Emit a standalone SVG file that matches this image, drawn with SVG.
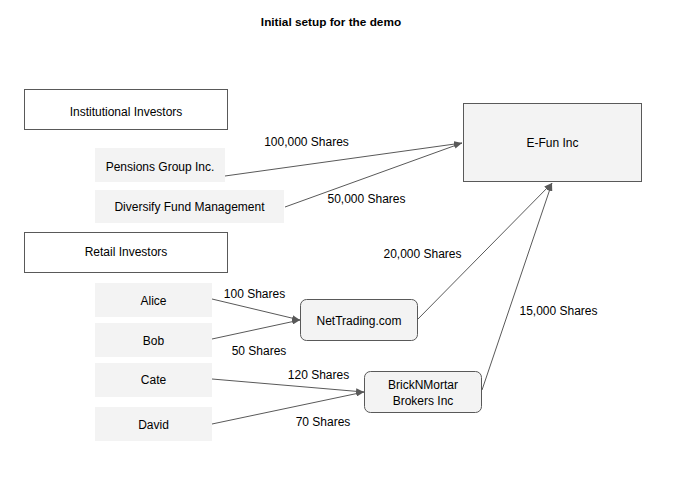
<svg xmlns="http://www.w3.org/2000/svg" width="682" height="480" viewBox="0 0 682 480">
<style>
text{font-family:"Liberation Sans",Arial,sans-serif;font-size:12px;fill:#000}
.t{text-anchor:middle}
.title{font-weight:bold;font-size:11.8px}
.box{fill:#fff;stroke:#595959;stroke-width:1}
.grey{fill:#f3f3f3;stroke:none}
.efun{fill:#f3f3f3;stroke:#595959;stroke-width:1}
.rnd{fill:#f3f3f3;stroke:#595959;stroke-width:1}
.c{stroke:#595959;stroke-width:1;fill:none;marker-end:url(#ah)}
</style>
<defs>
<marker id="ah" markerWidth="8" markerHeight="6" refX="8" refY="3" orient="auto" markerUnits="userSpaceOnUse">
<path d="M0,0 L8,3 L0,6 z" fill="#595959"/>
</marker>
</defs>
<rect width="682" height="480" fill="#fff"/>
<text class="t title" x="331" y="26">Initial setup for the demo</text>

<g id="institutional">
<rect class="box" x="24.5" y="89.5" width="203" height="40"/>
<text class="t" x="126" y="116">Institutional Investors</text>
</g>
<g id="pensions">
<rect class="grey" x="95" y="148" width="130" height="34"/>
<text class="t" x="160" y="171">Pensions Group Inc.</text>
</g>
<g id="diversify">
<rect class="grey" x="95" y="190" width="189" height="33"/>
<text class="t" x="189.5" y="211">Diversify Fund Management</text>
</g>
<g id="retail">
<rect class="box" x="24.5" y="232.5" width="203" height="40"/>
<text class="t" x="126" y="256">Retail Investors</text>
</g>
<g id="alice">
<rect class="grey" x="95" y="283" width="117" height="34"/>
<text class="t" x="153.5" y="305">Alice</text>
</g>
<g id="bob">
<rect class="grey" x="95" y="323" width="117" height="34"/>
<text class="t" x="153.5" y="345">Bob</text>
</g>
<g id="cate">
<rect class="grey" x="95" y="363" width="117" height="34"/>
<text class="t" x="153.5" y="384">Cate</text>
</g>
<g id="david">
<rect class="grey" x="95" y="407" width="117" height="34"/>
<text class="t" x="153.5" y="429">David</text>
</g>
<g id="efun">
<rect class="efun" x="463.5" y="103.5" width="178" height="78"/>
<text class="t" x="552.5" y="147">E-Fun Inc</text>
</g>
<g id="nettrading">
<rect class="rnd" x="300.5" y="299.5" width="117" height="41" rx="6"/>
<text class="t" x="359" y="325">NetTrading.com</text>
</g>
<g id="brick">
<rect class="rnd" x="364.5" y="371.5" width="117" height="41" rx="6"/>
<text class="t" x="423" y="389">BrickNMortar</text>
<text class="t" x="423" y="405">Brokers Inc</text>
</g>

<g id="connectors">
<line class="c" x1="225" y1="176" x2="462" y2="143"/>
<line class="c" x1="285" y1="207" x2="462" y2="143"/>
<line class="c" x1="417" y1="320" x2="552" y2="183"/>
<line class="c" x1="482" y1="390" x2="552" y2="183"/>
<line class="c" x1="212" y1="299" x2="300" y2="320"/>
<line class="c" x1="212" y1="339" x2="300" y2="320"/>
<line class="c" x1="212" y1="379" x2="364" y2="392"/>
<line class="c" x1="212" y1="424" x2="364" y2="392"/>
<text class="t" x="306.5" y="146">100,000 Shares</text>
<text class="t" x="366.5" y="203">50,000 Shares</text>
<text class="t" x="422.5" y="258">20,000 Shares</text>
<text class="t" x="558.5" y="315">15,000 Shares</text>
<text class="t" x="254.5" y="298">100 Shares</text>
<text class="t" x="259" y="355">50 Shares</text>
<text class="t" x="318.5" y="379">120 Shares</text>
<text class="t" x="323" y="426">70 Shares</text>
</g>
</svg>
